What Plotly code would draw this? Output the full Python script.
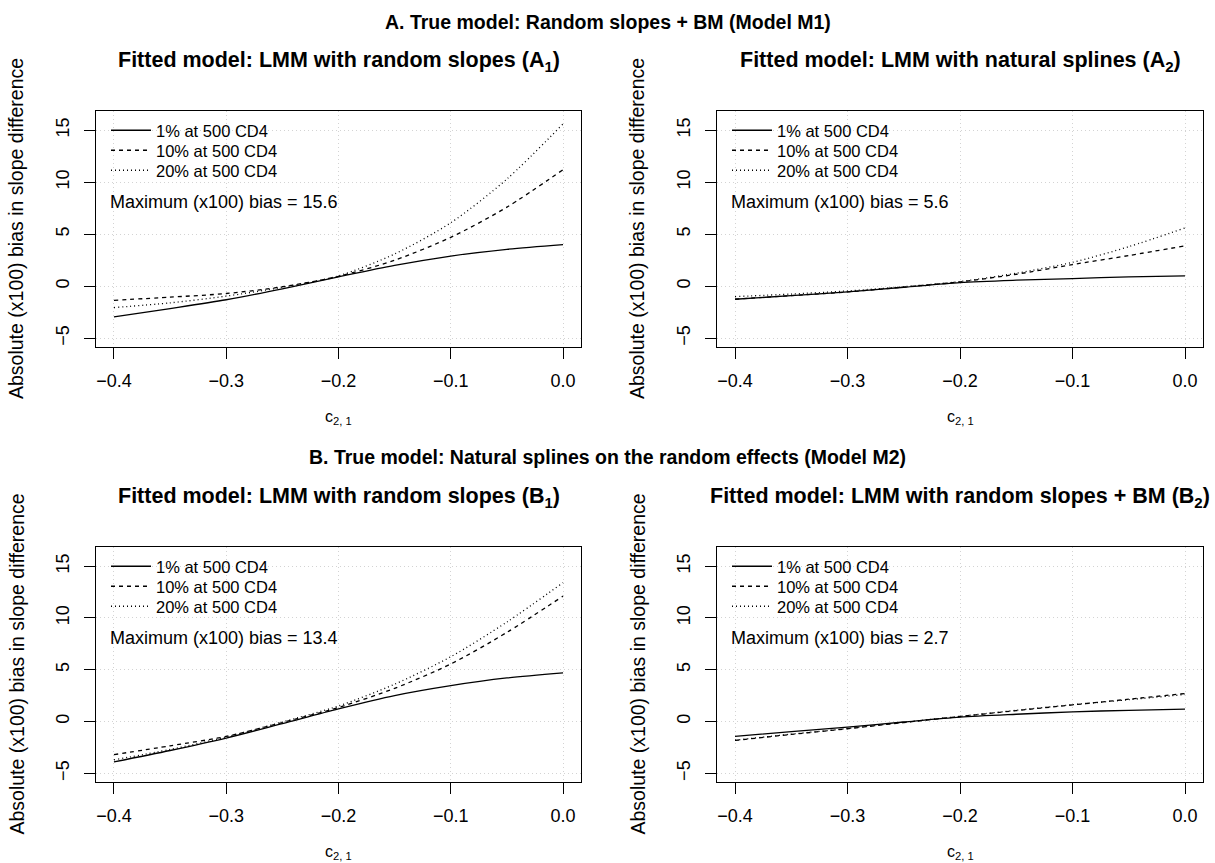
import plotly.graph_objects as go

# ---------------- data ----------------
c21 = [-0.40, -0.35, -0.30, -0.25, -0.20, -0.15, -0.10, -0.05, 0.00]
series_names = ["1% at 500 CD4", "10% at 500 CD4", "20% at 500 CD4"]

# Panel A1: true M1, fitted LMM random slopes
a1_p1 = [-2.95, -2.15, -1.30, -0.25, 0.90, 2.00, 2.90, 3.55, 4.00]
a1_p10 = [-1.35, -1.05, -0.70, -0.05, 0.95, 2.50, 4.70, 7.60, 11.20]
a1_p20 = [-2.05, -1.60, -0.95, -0.10, 1.00, 3.10, 6.10, 10.30, 15.60]

# Panel A2: true M1, fitted LMM natural splines
a2_p1 = [-1.25, -0.90, -0.55, -0.10, 0.35, 0.58, 0.74, 0.90, 1.00]
a2_p10 = [-1.25, -0.90, -0.55, -0.08, 0.42, 1.15, 2.08, 2.95, 3.88]
a2_p20 = [-1.00, -0.75, -0.45, -0.05, 0.45, 1.25, 2.30, 3.80, 5.60]

# Panel B1: true M2, fitted LMM random slopes
b1_p1 = [-3.90, -2.80, -1.60, -0.20, 1.22, 2.50, 3.46, 4.20, 4.70]
b1_p10 = [-3.20, -2.35, -1.44, -0.10, 1.35, 3.20, 5.55, 8.60, 12.10]
b1_p20 = [-3.70, -2.70, -1.50, -0.05, 1.50, 3.60, 6.25, 9.60, 13.40]

# Panel B2: true M2, fitted LMM random slopes + BM
b2_p1 = [-1.44, -0.98, -0.54, -0.05, 0.42, 0.70, 0.93, 1.08, 1.19]
b2_p10 = [-1.83, -1.25, -0.70, -0.10, 0.48, 1.05, 1.60, 2.15, 2.70]
b2_p20 = [-1.80, -1.22, -0.68, -0.08, 0.50, 1.08, 1.62, 2.10, 2.60]

max_bias = [15.6, 5.6, 13.4, 2.7]
panel_titles = [
    "Fitted model: LMM with random slopes (A<sub>1</sub>)",
    "Fitted model: LMM with natural splines (A<sub>2</sub>)",
    "Fitted model: LMM with random slopes (B<sub>1</sub>)",
    "Fitted model: LMM with random slopes + BM (B<sub>2</sub>)",
]
main_titles = [
    "A. True model: Random slopes + BM (Model M1)",
    "B. True model: Natural splines on the random effects (Model M2)",
]
x_ticks = [-0.4, -0.3, -0.2, -0.1, 0.0]
y_ticks = [-5, 0, 5, 10, 15]
y_title = "Absolute (x100) bias in slope difference"
x_title = "c<sub>2, 1</sub>"

panels = [
    [a1_p1, a1_p10, a1_p20],
    [a2_p1, a2_p10, a2_p20],
    [b1_p1, b1_p10, b1_p20],
    [b2_p1, b2_p10, b2_p20],
]

# ---------------- layout geometry ----------------
W, H = 1215, 863
FONT = "Liberation Sans, Arial, Helvetica, sans-serif"


def px(x):
    return x / W


def py(y):
    return 1 - y / H


boxes = [  # left, right, top, bottom (pixels)
    (96, 581, 111, 347),
    (717, 1203, 111, 347),
    (96, 581, 547, 782),
    (717, 1203, 547, 782),
]
legend_rows = [19, 39, 59]  # offsets of legend rows below the box top

dashes = ["solid", "4px,4px", "1px,3px"]

layout = dict(
    width=W, height=H,
    margin=dict(l=0, r=0, t=0, b=0),
    paper_bgcolor="white", plot_bgcolor="white",
    font=dict(family=FONT, color="black"),
    showlegend=True,
)

fig = go.Figure()
annotations = []
leg_idx = 0
for i, series in enumerate(panels):
    sfx = "" if i == 0 else str(i + 1)
    l, r, t, b = boxes[i]
    for k, (name, vals, dash) in enumerate(zip(series_names, series, dashes)):
        leg_idx += 1
        leg = "legend" if leg_idx == 1 else f"legend{leg_idx}"
        fig.add_trace(go.Scatter(
            x=c21, y=vals, mode="lines", name=name,
            line=dict(color="black", width=1.3, dash=dash, shape="spline", smoothing=0.8),
            xaxis="x" + sfx, yaxis="y" + sfx, legend=leg,
        ))
        layout[leg] = dict(
            x=px(l + 10), y=py(t + legend_rows[k] - 17), xanchor="left", yanchor="top",
            bgcolor="rgba(0,0,0,0)", font=dict(size=16.5, family=FONT, color="black"),
            itemwidth=40, tracegroupgap=0,
        )

for i, (l, r, t, b) in enumerate(boxes):
    sfx = "" if i == 0 else str(i + 1)
    layout["xaxis" + sfx] = dict(
        domain=[px(l), px(r)], anchor="y" + sfx,
        range=[-0.416, 0.016], tickvals=x_ticks, tickformat=".1f",
        showline=True, mirror=True, linecolor="black", linewidth=1.3,
        ticks="outside", ticklen=11, tickwidth=1.3, tickcolor="black",
        showgrid=True, gridcolor="#d3d3d3", griddash="1px,3px", gridwidth=1,
        zeroline=False, tickfont=dict(size=18, family=FONT, color="black"),
        ticklabelstandoff=6,
    )
    layout["yaxis" + sfx] = dict(
        domain=[py(b), py(t)], anchor="x" + sfx,
        range=[-5.84, 16.84], tickvals=y_ticks,
        showline=True, mirror=True, linecolor="black", linewidth=1.3,
        ticks="outside", ticklen=11, tickwidth=1.3, tickcolor="black",
        showgrid=True, gridcolor="#d3d3d3", griddash="1px,3px", gridwidth=1,
        zeroline=False, tickangle=-90,
        tickfont=dict(size=18, family=FONT, color="black"),
        ticklabelstandoff=8,
    )
    cx = (l + r) / 2
    annotations.append(dict(
        text="<b>" + panel_titles[i] + "</b>", x=px(cx), y=py(t - 49),
        xref="paper", yref="paper", showarrow=False, xanchor="center", yanchor="middle",
        font=dict(size=21.5, family=FONT, color="black"),
    ))
    annotations.append(dict(
        text=f"Maximum (x100) bias = {max_bias[i]}", x=px(l + 12), y=py(t + 91),
        xref="paper", yref="paper", showarrow=False, xanchor="left", yanchor="middle",
        font=dict(size=18, family=FONT, color="black"),
    ))
    annotations.append(dict(
        text=x_title, x=px(cx), y=py(b + 70),
        xref="paper", yref="paper", showarrow=False, xanchor="center", yanchor="middle",
        font=dict(size=16, family=FONT, color="black"),
    ))
    annotations.append(dict(
        text=y_title, x=px(l - 80), y=py((t + b) / 2), textangle=-90,
        xref="paper", yref="paper", showarrow=False, xanchor="center", yanchor="middle",
        font=dict(size=19.5, family=FONT, color="black"),
    ))

annotations.append(dict(
    text="<b>" + main_titles[0] + "</b>", x=0.5, y=py(22), xref="paper", yref="paper",
    showarrow=False, xanchor="center", yanchor="middle", font=dict(size=19.5, family=FONT, color="black"),
))
annotations.append(dict(
    text="<b>" + main_titles[1] + "</b>", x=0.5, y=py(457), xref="paper", yref="paper",
    showarrow=False, xanchor="center", yanchor="middle", font=dict(size=19.5, family=FONT, color="black"),
))
layout["annotations"] = annotations

fig.update_layout(**layout)
fig.write_html("out.html")
